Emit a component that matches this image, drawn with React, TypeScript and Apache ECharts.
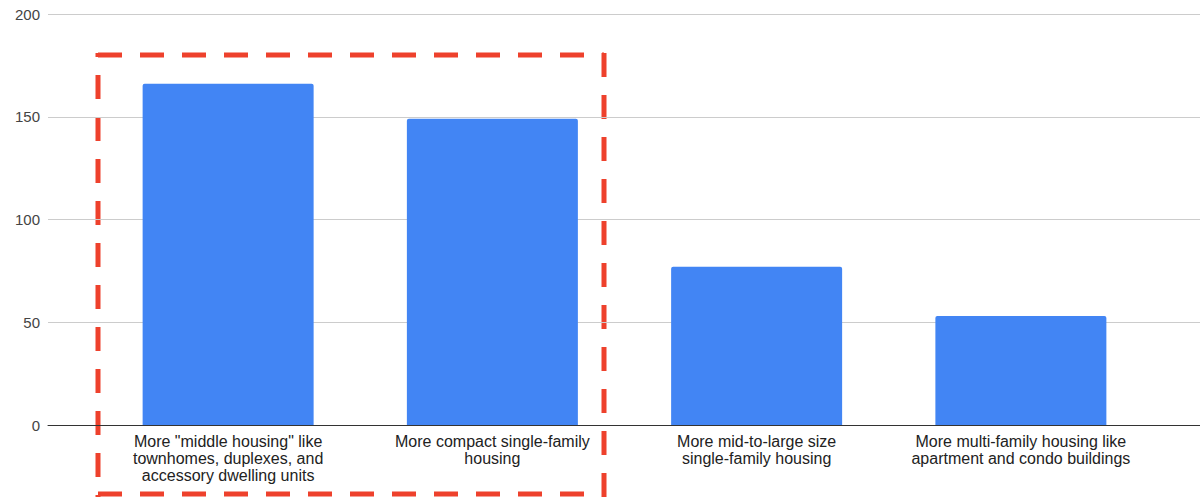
import React, { useEffect, useRef } from "react";
import * as echarts from "echarts";

// Survey responses: preferred housing types
const categories = [
  'More "middle housing" like\ntownhomes, duplexes, and\naccessory dwelling units',
  "More compact single-family\nhousing",
  "More mid-to-large size\nsingle-family housing",
  "More multi-family housing like\napartment and condo buildings",
];
const responses = [166, 149, 77, 53];
const yTicks = [0, 50, 100, 150, 200];

const FONT = "'Liberation Sans', Arial, sans-serif";
const RED = "#ee412c";

export default function App() {
  const ref = useRef<HTMLDivElement>(null);

  useEffect(() => {
    document.body.style.margin = "0";
    const chart = echarts.init(ref.current!, null, { renderer: "svg" });
    const yMax = yTicks[yTicks.length - 1];
    const yInterval = yTicks[1] - yTicks[0];

    const dash = { stroke: RED, lineWidth: 5, lineDash: [24, 18] };

    chart.setOption({
      animation: false,
      backgroundColor: "#ffffff",
      grid: [
        // full-width frame for gridlines, baseline and y labels
        { left: 48, right: -10, top: 14, bottom: 74 },
        // narrower frame holding the category bars
        { left: 96, right: 47, top: 14, bottom: 74 },
      ],
      xAxis: [
        {
          gridIndex: 0,
          type: "value",
          min: 0,
          max: 1,
          axisLine: { show: true, lineStyle: { color: "#333333", width: 1 } },
          axisTick: { show: false },
          axisLabel: { show: false },
          splitLine: { show: false },
        },
        {
          gridIndex: 1,
          type: "category",
          data: categories,
          axisLine: { show: false },
          axisTick: { show: false },
          axisLabel: {
            interval: 0,
            color: "#222222",
            fontFamily: FONT,
            fontSize: 16,
            lineHeight: 17,
            margin: 8,
          },
        },
      ],
      yAxis: [
        {
          gridIndex: 0,
          type: "value",
          min: 0,
          max: yMax,
          interval: yInterval,
          axisLine: { show: false },
          axisTick: { show: false },
          axisLabel: {
            color: "#444444",
            fontFamily: FONT,
            fontSize: 15,
            margin: 8,
          },
          splitLine: { show: true, lineStyle: { color: "#cccccc", width: 1 } },
        },
        {
          gridIndex: 1,
          type: "value",
          min: 0,
          max: yMax,
          interval: yInterval,
          axisLine: { show: false },
          axisTick: { show: false },
          axisLabel: { show: false },
          splitLine: { show: false },
        },
      ],
      series: [
        {
          type: "bar",
          xAxisIndex: 1,
          yAxisIndex: 1,
          data: responses,
          barWidth: 171,
          itemStyle: { color: "#4285f4", borderRadius: [2, 2, 0, 0] },
        },
      ],
      graphic: [
        { type: "line", shape: { x1: 98, y1: 55, x2: 604, y2: 55 }, style: dash },
        { type: "line", shape: { x1: 604, y1: 53, x2: 604, y2: 497 }, style: dash },
        { type: "line", shape: { x1: 98, y1: 494, x2: 600, y2: 494 }, style: dash },
        {
          type: "line",
          shape: { x1: 98, y1: 53, x2: 98, y2: 497 },
          style: { ...dash, lineDashOffset: 20 },
        },
      ],
    });
    return () => chart.dispose();
  }, []);

  return (
    <div
      ref={ref}
      style={{ position: "absolute", left: 0, top: 0, width: 1200, height: 499 }}
    />
  );
}
